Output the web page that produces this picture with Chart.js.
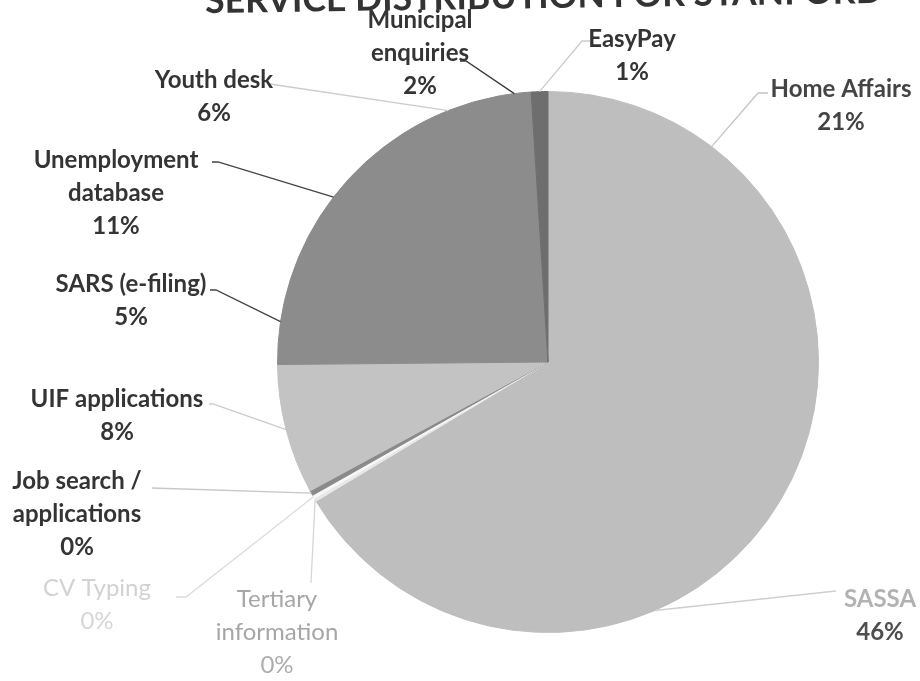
<!DOCTYPE html>
<html>
<head>
<meta charset="utf-8">
<script src="https://cdn.jsdelivr.net/npm/chart.js@4.4.1/dist/chart.umd.min.js"></script>
<style>
  html, body { margin: 0; padding: 0; background: #ffffff; }
  #wrap { width: 920px; height: 681px; position: relative; }
</style>
</head>
<body>
<div id="wrap"><canvas id="c"></canvas></div>
<script>
// ---- data ----
const categories = ['Home Affairs', 'SASSA', 'Tertiary information', 'CV Typing',
  'Job search / applications', 'UIF applications', 'SARS (e-filing)',
  'Unemployment database', 'Youth desk', 'Municipal enquiries', 'EasyPay'];
const shares = [20.8, 46, 0.2, 0.2, 0.3, 7.8, 5.1, 11.1, 6.1, 2.0, 1.0];
const labelLines = [['Home Affairs'], ['SASSA'], ['Tertiary', 'information'], ['CV Typing'],
  ['Job search /', 'applications'], ['UIF applications'], ['SARS (e-filing)'],
  ['Unemployment', 'database'], ['Youth desk'], ['Municipal', 'enquiries'], ['EasyPay']];
const titleText = 'SERVICE DISTRIBUTION FOR STANFORD';

// ---- styles ----
const sliceColors = ['#bebebe', '#bebebe', '#e8e8e8', '#f7f7f7', '#8a8a8a', '#c3c3c3',
  '#8c8c8c', '#8c8c8c', '#8c8c8c', '#8c8c8c', '#6e6e6e'];

// label layout: text centre x, centre y of first line, leader path, colours
const layout = [
  { cx: 841, y: 89,  path: [[758, 93], [768, 93]], line: '#c4c4c4', name: '#444444', pct: '#444444', w: 'bold' },
  { cx: 880, y: 599, path: [[836, 591]], line: '#cfcfcf', name: '#b2b2b2', pct: '#4e4e4e', w: 'bold' },
  { cx: 277, y: 599, path: [[311, 583]], line: '#d6d6d6', name: '#a6a6a6', pct: '#adadad', w: 'normal' },
  { cx: 97,  y: 588, path: [[186, 597], [176, 597]], line: '#dcdcdc', name: '#d2d2d2', pct: '#d6d6d6', w: 'normal' },
  { cx: 77,  y: 481, path: [[152, 488]], line: '#c8c8c8', name: '#343434', pct: '#343434', w: 'bold' },
  { cx: 117, y: 399, path: [[213, 404], [209, 404]], line: '#cccccc', name: '#343434', pct: '#343434', w: 'bold' },
  { cx: 131, y: 284, path: [[216, 290], [210, 290]], line: '#444444', name: '#343434', pct: '#343434', w: 'bold' },
  { cx: 116, y: 160, path: [[218, 162], [212, 162]], line: '#444444', name: '#343434', pct: '#343434', w: 'bold' },
  { cx: 214, y: 80,  path: [[270, 84]], line: '#cccccc', name: '#343434', pct: '#343434', w: 'bold' },
  { cx: 420, y: 20,  path: [[466, 61], [460, 61]], line: '#3a3a3a', name: '#343434', pct: '#343434', w: 'bold' },
  { cx: 632, y: 39,  path: [[582, 41], [590, 41]], line: '#cccccc', name: '#343434', pct: '#343434', w: 'bold' }
];
const lineHeight = 33;
const labelFontSize = 24;
const fontFamily = 'Lato, "Open Sans", sans-serif';

const labelPlugin = {
  id: 'excelLabels',
  afterDraw(chart) {
    const ctx = chart.ctx;
    const meta = chart.getDatasetMeta(0);
    const data = chart.data.datasets[0].data;
    const total = data.reduce((a, b) => a + b, 0);

    // title (partly cut off at top, as in the scan)
    ctx.save();
    ctx.fillStyle = '#333333';
    ctx.font = 'bold 40px ' + fontFamily;
    const w40 = ctx.measureText(titleText).width;
    const fs = 40 * 678 / w40;
    ctx.font = 'bold ' + fs.toFixed(1) + 'px ' + fontFamily;
    ctx.textAlign = 'center';
    ctx.textBaseline = 'alphabetic';
    ctx.translate(544, 8);
    ctx.rotate(-0.015);
    ctx.fillText(titleText, 0, 0);
    ctx.restore();

    meta.data.forEach((arc, i) => {
      const p = arc.getProps(['x', 'y', 'startAngle', 'endAngle', 'outerRadius'], true);
      const mid = (p.startAngle + p.endAngle) / 2;
      const ex = p.x + Math.cos(mid) * p.outerRadius;
      const ey = p.y + Math.sin(mid) * p.outerRadius;
      const L = layout[i];
      ctx.save();
      ctx.strokeStyle = L.line;
      ctx.lineWidth = 1.3;
      ctx.beginPath();
      ctx.moveTo(ex, ey);
      L.path.forEach(pt => ctx.lineTo(pt[0], pt[1]));
      ctx.stroke();

      const lines = labelLines[i].concat([Math.round(data[i] / total * 100) + '%']);
      ctx.textAlign = 'center';
      ctx.textBaseline = 'middle';
      lines.forEach((t, k) => {
        const isPct = k === lines.length - 1;
        ctx.fillStyle = isPct ? L.pct : L.name;
        ctx.font = L.w + ' ' + labelFontSize + 'px ' + fontFamily;
        ctx.fillText(t, L.cx, L.y + k * lineHeight);
      });
      ctx.restore();
    });
  }
};

new Chart(document.getElementById('c'), {
  type: 'pie',
  data: {
    labels: categories,
    datasets: [{
      data: shares,
      backgroundColor: sliceColors,
      borderColor: sliceColors,
      borderWidth: 1
    }]
  },
  options: {
    responsive: true,
    maintainAspectRatio: false,
    animation: false,
    layout: { padding: { left: 277, right: 101, top: 91, bottom: 48 } },
    plugins: {
      legend: { display: false },
      title: { display: false },
      tooltip: { enabled: false }
    }
  },
  plugins: [labelPlugin]
});
</script>
</body>
</html>
